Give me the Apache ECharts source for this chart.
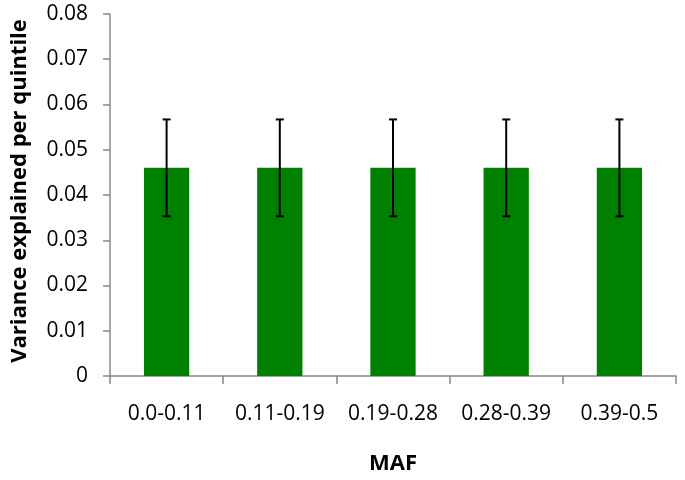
<!DOCTYPE html>
<html>
<head>
<meta charset="UTF-8">
<title>Variance explained per quintile</title>
<script src="https://cdn.jsdelivr.net/npm/echarts@6/dist/echarts.min.js"></script>
<style>
  html, body { margin: 0; padding: 0; background: #fff; }
  #main { width: 685px; height: 480px; }
</style>
</head>
<body>
<div id="main"></div>
<script>
// data
var categories = ['0.0-0.11', '0.11-0.19', '0.19-0.28', '0.28-0.39', '0.39-0.5'];
var variance = [0.046, 0.046, 0.046, 0.046, 0.046];
var errLow = [0.0353, 0.0353, 0.0353, 0.0353, 0.0353];
var errHigh = [0.0567, 0.0567, 0.0567, 0.0567, 0.0567];

var errData = categories.map(function (c, i) {
  return [i, errLow[i], errHigh[i]];
});

var chart = echarts.init(document.getElementById('main'));

var font = '"Open Sans", sans-serif';

var option = {
  animation: false,
  grid: { left: 110, right: 9, top: 14, bottom: 101 },
  xAxis: {
    type: 'category',
    data: categories,
    name: 'MAF',
    nameLocation: 'middle',
    nameGap: 77,
    nameTextStyle: { fontFamily: font, fontSize: 22, fontWeight: 'bold', color: '#000' },
    axisLine: { lineStyle: { color: '#888', width: 1.5 } },
    axisTick: { show: true, length: 8, lineStyle: { color: '#888', width: 1.5 } },
    axisLabel: { fontFamily: font, fontSize: 21, color: '#000', margin: 28, interval: 0 }
  },
  yAxis: {
    type: 'value',
    min: 0,
    max: 0.08,
    interval: 0.01,
    name: 'Variance explained per quintile',
    nameLocation: 'middle',
    nameGap: 79,
    nameTextStyle: { fontFamily: font, fontSize: 22, fontWeight: 'bold', color: '#000', padding: [0, 0, 0, 8] },
    axisLine: { show: true, lineStyle: { color: '#888', width: 1.5 } },
    axisTick: { show: true, length: 7, lineStyle: { color: '#888', width: 1.5 } },
    splitLine: { show: false },
    axisLabel: {
      fontFamily: font, fontSize: 21, color: '#000', margin: 22,
      formatter: function (v) { return v === 0 ? '0' : v.toFixed(2); }
    }
  },
  series: [{
    type: 'bar',
    data: variance,
    barWidth: '40%',
    itemStyle: { color: '#008000' }
  }, {
    type: 'custom',
    data: errData,
    z: 10,
    renderItem: function (params, api) {
      var x = api.value(0);
      var lo = api.coord([x, api.value(1)]);
      var hi = api.coord([x, api.value(2)]);
      var half = 4;
      var style = { stroke: '#000', lineWidth: 2 };
      return {
        type: 'group',
        children: [
          { type: 'line', shape: { x1: lo[0], y1: lo[1], x2: hi[0], y2: hi[1] }, style: style },
          { type: 'line', shape: { x1: lo[0] - half, y1: lo[1], x2: lo[0] + half, y2: lo[1] }, style: style },
          { type: 'line', shape: { x1: hi[0] - half, y1: hi[1], x2: hi[0] + half, y2: hi[1] }, style: style }
        ]
      };
    }
  }]
};

chart.setOption(option);
</script>
</body>
</html>
